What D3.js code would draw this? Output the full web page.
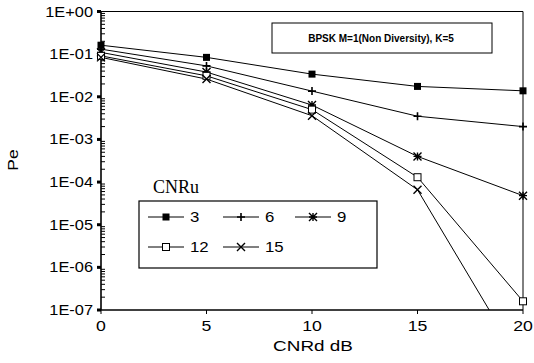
<!DOCTYPE html>
<html><head><meta charset="utf-8">
<script src="https://cdn.jsdelivr.net/npm/d3@7"></script>
<style>body{margin:0;background:#fff}svg{display:block}</style>
</head><body>
<svg id="c" width="534" height="363"></svg>
<script>
const xValues = [0, 5, 10, 15, 20];
const seriesNames = ["3", "6", "9", "12", "15"];
const s3  = [0.162, 0.084, 0.034, 0.0175, 0.0138];
const s6  = [0.131, 0.053, 0.0136, 0.0035, 0.002];
const s9  = [0.11, 0.038, 0.0064, 4.0e-4, 4.8e-5];
const s12 = [0.091, 0.031, 0.005, 1.3e-4, 1.6e-7];
const s15 = [0.084, 0.026, 0.0036, 6.6e-5, 4.7e-9];
const seriesValues = [s3, s6, s9, s12, s15];
const markers = ["fsquare", "plus", "star", "osquare", "cross"];
const yTickLabels = ["1E+00","1E-01","1E-02","1E-03","1E-04","1E-05","1E-06","1E-07"];
const xTickLabels = ["0","5","10","15","20"];

const svg = d3.select("#c");
const L = 101, R = 523, T = 11.5, B = 310;
const x = d3.scaleLinear().domain([0, 20]).range([L, R]);
const y = d3.scaleLog().domain([1e-7, 1]).range([B, T]);
const SANS = "Liberation Sans, Arial, sans-serif";

function stext(parent, tx, ty, str, size, anchor, sx, rot) {
  const g = parent.append("g").attr("transform", `translate(${tx},${ty})` + (rot ? ` rotate(${rot})` : ""));
  return g.append("text").attr("transform", `scale(${sx},1)`).attr("text-anchor", anchor)
    .attr("font-family", SANS).attr("font-size", size).text(str);
}

svg.append("clipPath").attr("id","pc").append("rect")
  .attr("x", L).attr("y", T).attr("width", R-L).attr("height", B-T);

// frame top & right
svg.append("line").attr("x1",L).attr("x2",R).attr("y1",T).attr("y2",T).attr("stroke","#000").attr("stroke-width",1);
svg.append("line").attr("x1",R).attr("x2",R).attr("y1",T).attr("y2",B).attr("stroke","#000").attr("stroke-width",1);

// y axis minor ticks
const minor = [];
for (let e = -7; e < 0; e++) for (let m = 2; m <= 9; m++) minor.push(m * Math.pow(10, e));
svg.append("g").selectAll("line").data(minor).join("line")
  .attr("x1", L).attr("x2", L+4).attr("y1", d=>y(d)).attr("y2", d=>y(d))
  .attr("stroke","#000").attr("stroke-width",1);
const majors = yTickLabels.map(t => +t);
svg.append("g").selectAll("rect").data(majors).join("rect")
  .attr("x", L-4).attr("y", d=>y(d)-1.5).attr("width",4).attr("height",3).attr("fill","#000");
yTickLabels.forEach(t => stext(svg, L-8, y(+t)+5, t, 14, "end", 1.17));

// x axis ticks
svg.append("g").selectAll("line").data(xTickLabels).join("line")
  .attr("x1", d=>x(+d)).attr("x2", d=>x(+d)).attr("y1", B).attr("y2", B+4)
  .attr("stroke","#000").attr("stroke-width",1);
xTickLabels.forEach(t => stext(svg, x(+t), B+21, t, 14.5, "middle", 1.22));

// axes lines
svg.append("line").attr("x1",L).attr("x2",L).attr("y1",T).attr("y2",B).attr("stroke","#000").attr("stroke-width",1.6);
svg.append("line").attr("x1",L).attr("x2",R).attr("y1",B).attr("y2",B).attr("stroke","#000").attr("stroke-width",1.6);

// axis titles
stext(svg, 313, 351, "CNRd dB", 14, "middle", 1.35);
stext(svg, 18, 160, "Pe", 14, "middle", 1.25, -90);

function drawMarker(g, type, cx, cy) {
  const s = 3.5;
  if (type === "fsquare") g.append("rect").attr("x",cx-s).attr("y",cy-s).attr("width",2*s).attr("height",2*s).attr("fill","#000");
  else if (type === "osquare") g.append("rect").attr("x",cx-s).attr("y",cy-s).attr("width",2*s).attr("height",2*s).attr("fill","#fff").attr("stroke","#000").attr("stroke-width",1);
  else {
    let p = "";
    if (type === "plus" || type === "star") p += `M${cx-4},${cy}H${cx+4}M${cx},${cy-4}V${cy+4}`;
    if (type === "cross" || type === "star") p += `M${cx-4},${cy-4}L${cx+4},${cy+4}M${cx-4},${cy+4}L${cx+4},${cy-4}`;
    g.append("path").attr("d", p).attr("stroke","#000").attr("stroke-width", type==="plus"?1.6:1.4).attr("fill","none");
  }
}

const line = d3.line().x((d,i)=>x(xValues[i])).y(d=>y(d));
const plot = svg.append("g").attr("clip-path","url(#pc)");
seriesValues.forEach((vals) => {
  plot.append("path").attr("d", line(vals)).attr("fill","none").attr("stroke","#000").attr("stroke-width",1);
});
const mk = svg.append("g");
seriesValues.forEach((vals, k) => {
  vals.forEach((v, i) => { if (v >= 1e-7) drawMarker(mk, markers[k], x(xValues[i]), y(v)); });
});

// info box
svg.append("rect").attr("x",272).attr("y",23).attr("width",220).attr("height",30)
  .attr("fill","#fff").attr("stroke","#000").attr("stroke-width",1);
svg.append("text").attr("x",381).attr("y",42).attr("text-anchor","middle")
  .attr("font-family",SANS).attr("font-size",10).attr("font-weight","bold")
  .text("BPSK M=1(Non Diversity), K=5");

// legend
svg.append("text").attr("x",153).attr("y",193)
  .attr("font-family","Liberation Serif, Times New Roman, serif").attr("font-size",18).text("CNRu");
svg.append("rect").attr("x",139).attr("y",201).attr("width",238).attr("height",67)
  .attr("fill","#fff").attr("stroke","#000").attr("stroke-width",1.2);
const legPos = [[148,217],[223,217],[295,217],[148,247],[223,247]];
seriesNames.forEach((n, k) => {
  const [lx, ly] = legPos[k];
  svg.append("line").attr("x1",lx).attr("x2",lx+36).attr("y1",ly).attr("y2",ly).attr("stroke","#000").attr("stroke-width",1);
  drawMarker(svg, markers[k], lx+18, ly);
  stext(svg, lx+42, ly+5, n, 14, "start", 1.2);
});
</script>
</body></html>
